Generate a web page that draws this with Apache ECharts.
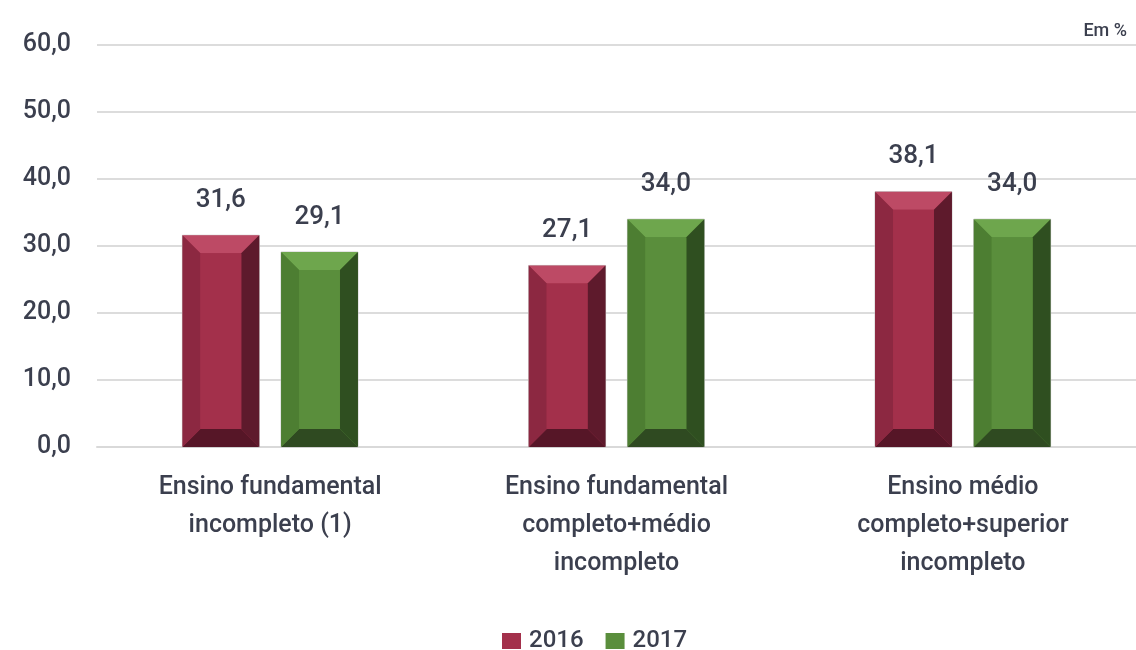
<!DOCTYPE html>
<html>
<head>
<meta charset="utf-8">
<script src="https://cdn.jsdelivr.net/npm/echarts@6/dist/echarts.min.js"></script>
<style>
  html, body { margin: 0; padding: 0; background: #fff; }
  #chart { width: 1136px; height: 650px; }
</style>
</head>
<body>
<div id="chart"></div>
<script>
// dados (em %)
var categorias = [
  'Ensino fundamental\nincompleto (1)',
  'Ensino fundamental\ncompleto+médio\nincompleto',
  'Ensino médio\ncompleto+superior\nincompleto'
]
var valores2016 = [31.6, 27.1, 38.1]
var valores2017 = [29.1, 34.0, 34.0]
var yTicks = [0, 10, 20, 30, 40, 50, 60]

var textColor = '#3b3f4e'
var fonte = 'Roboto, "Noto Sans", sans-serif'

// cores do efeito chanfrado: frente, topo, esquerda, direita, base
var corVermelho = { face: '#a3304b', top: '#bd4a65', left: '#8c2841', right: '#5e1a2c', bottom: '#561627' }
var corVerde = { face: '#5a8e3c', top: '#6ea64d', left: '#4d7e32', right: '#2f4f20', bottom: '#2f4a21' }

function fmt(v) {
  return v.toFixed(1).replace('.', ',')
}

// desenha a barra com chanfro usando as escalas do próprio eixo
function barraChanfrada(cores, lado) {
  return function (params, api) {
    var cat = api.value(0)
    var val = api.value(1)
    var base = api.coord([cat, 0])
    var topo = api.coord([cat, val])
    var band = api.size([1, 0])[0]
    var w = band * 0.222
    var gap = band * 0.063
    var cx = base[0] + lado * (w / 2 + gap / 2)
    var x0 = cx - w / 2, x1 = cx + w / 2
    var y0 = topo[1], y1 = base[1]
    var b = Math.min(18, (y1 - y0) / 2)
    var style = function (c) { return { fill: c } }
    return {
      type: 'group',
      children: [
        { type: 'rect', shape: { x: x0, y: y0, width: w, height: y1 - y0 }, style: { fill: cores.face, stroke: '#c8c8c8', lineWidth: 1 } },
        { type: 'polygon', shape: { points: [[x0, y0], [x1, y0], [x1 - b, y0 + b], [x0 + b, y0 + b]] }, style: style(cores.top) },
        { type: 'polygon', shape: { points: [[x0, y1], [x1, y1], [x1 - b, y1 - b], [x0 + b, y1 - b]] }, style: style(cores.bottom) },
        { type: 'polygon', shape: { points: [[x0, y0], [x0 + b, y0 + b], [x0 + b, y1 - b], [x0, y1]] }, style: style(cores.left) },
        { type: 'polygon', shape: { points: [[x1, y0], [x1 - b, y0 + b], [x1 - b, y1 - b], [x1, y1]] }, style: style(cores.right) },
        { type: 'rect', shape: { x: x0 + b, y: y0 + b, width: w - 2 * b, height: y1 - y0 - 2 * b }, style: style(cores.face) },
        {
          type: 'text',
          style: {
            text: fmt(val),
            x: cx,
            y: y0 - 22,
            align: 'center',
            verticalAlign: 'bottom',
            fill: textColor,
            font: '500 26px ' + fonte
          }
        }
      ]
    }
  }
}

var myChart = echarts.init(document.getElementById('chart'))
myChart.setOption({
  animation: false,
  title: {
    text: 'Em %',
    right: 4,
    top: 17,
    textStyle: { fontSize: 18, fontWeight: 500, color: textColor, fontFamily: fonte }
  },
  legend: {
    left: 497,
    top: 624,
    itemWidth: 19,
    itemHeight: 16,
    itemGap: 22,
    icon: 'rect',
    data: ['2016', '2017'],
    textStyle: { fontSize: 24, fontWeight: 500, color: textColor, fontFamily: fonte, padding: [0, 0, 0, 3] }
  },
  grid: {
    left: 97,
    top: 45,
    width: 1043,
    height: 402
  },
  xAxis: {
    type: 'category',
    data: categorias,
    axisTick: { show: false },
    axisLine: { lineStyle: { color: '#d9d9d9', width: 2 } },
    axisLabel: {
      color: textColor,
      fontSize: 25,
      fontWeight: 500,
      fontFamily: fonte,
      lineHeight: 38,
      margin: 22,
      interval: 0
    }
  },
  yAxis: {
    type: 'value',
    min: yTicks[0],
    max: yTicks[yTicks.length - 1],
    interval: 10,
    axisLine: { show: false },
    axisTick: { show: false },
    splitLine: { lineStyle: { color: '#dcdcdc', width: 2 } },
    axisLabel: {
      color: textColor,
      fontSize: 25,
      fontWeight: 500,
      fontFamily: fonte,
      margin: 26,
      formatter: function (v) { return fmt(v) }
    }
  },
  series: [
    {
      name: '2016',
      type: 'custom',
      itemStyle: { color: corVermelho.face },
      renderItem: barraChanfrada(corVermelho, -1),
      data: valores2016.map(function (v, i) { return [i, v] })
    },
    {
      name: '2017',
      type: 'custom',
      itemStyle: { color: corVerde.face },
      renderItem: barraChanfrada(corVerde, 1),
      data: valores2017.map(function (v, i) { return [i, v] })
    }
  ]
})
</script>
</body>
</html>
